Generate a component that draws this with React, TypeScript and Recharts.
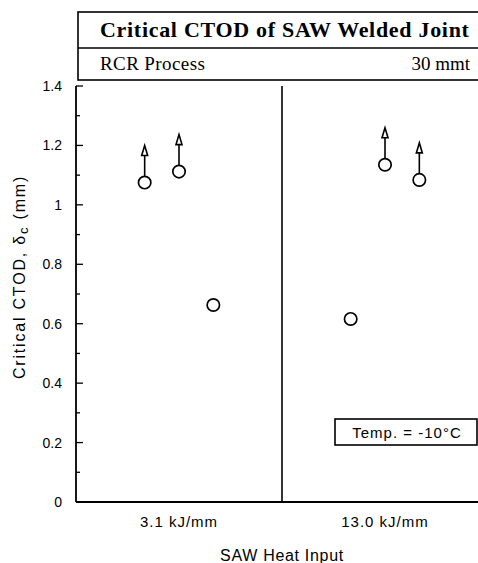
import { ScatterChart, Scatter, XAxis, YAxis, ReferenceLine, Label } from 'recharts';

const heatInputs = ['3.1 kJ/mm', '13.0 kJ/mm'];
// critical CTOD (mm) of the three specimens at each heat input
const ctod31 = [1.075, 1.112, 0.663];
const ctod130 = [0.616, 1.135, 1.084];
// true = no fracture, value is a lower bound (drawn with an up arrow)
const lowerBound31 = [true, true, false];
const lowerBound130 = [false, true, true];
const specimenSlots = [-0.5, 0, 0.5];
const yTicks = [0, 0.1, 0.2, 0.3, 0.4, 0.5, 0.6, 0.7, 0.8, 0.9, 1, 1.1, 1.2, 1.3, 1.4];

const groupWidth = 3;
const groupCenters = heatInputs.map((_, i) => i * groupWidth + groupWidth / 2);

const points = [ctod31, ctod130].flatMap((vals, g) =>
  vals.map((v, i) => ({
    x: groupCenters[g] + specimenSlots[i],
    y: v,
    lowerBound: [lowerBound31, lowerBound130][g][i],
  }))
);

const sans = '"Liberation Sans", Arial, sans-serif';
const serif = '"Liberation Serif", "Times New Roman", serif';

function CtodMark(props: any) {
  const { cx, cy, payload } = props;
  return (
    <g>
      {payload.lowerBound && (
        <>
          <line x1={cx} y1={cy - 6} x2={cx} y2={cy - 27} stroke="#000" strokeWidth={1.6} />
          <path
            d={`M${cx} ${cy - 37} L${cx - 3} ${cy - 27} L${cx + 3} ${cy - 27} Z`}
            fill="#fff"
            stroke="#000"
            strokeWidth={1.6}
          />
        </>
      )}
      <circle cx={cx} cy={cy} r={6.2} fill="#fff" stroke="#000" strokeWidth={1.7} />
    </g>
  );
}

function YTick(props: any) {
  const { x, y, payload } = props;
  const major = Math.round(payload.value * 10) % 2 === 0;
  const ax = x + 14;
  return (
    <g>
      <line x1={ax} x2={ax + (major ? 7 : 4)} y1={y} y2={y} stroke="#000" strokeWidth={1.3} />
      {major && (
        <text x={x} y={y} dy="0.355em" textAnchor="end" fill="#000" fontSize={14} fontFamily={sans}>
          {String(Number(payload.value.toFixed(1)))}
        </text>
      )}
    </g>
  );
}

function YTitle(props: any) {
  const { viewBox } = props;
  const x = viewBox.x + 19;
  const y = viewBox.y + viewBox.height / 2 - 17;
  return (
    <text
      x={x}
      y={y}
      transform={`rotate(-90 ${x} ${y})`}
      textAnchor="middle"
      dy="0.355em"
      fill="#000"
      fontSize={16}
      fontFamily={sans}
      letterSpacing={1.8}
    >
      Critical CTOD, δ
      <tspan fontSize={13} dy={3}>c</tspan>
      <tspan dy={-3}> (mm)</tspan>
    </text>
  );
}

export default function App() {
  return (
    <div style={{ position: 'relative', width: 478, height: 563, overflow: 'hidden', background: '#fff' }}>
      <style>{'body{margin:0}'}</style>
      <ScatterChart width={500} height={563} margin={{ top: 86, right: 12, bottom: 0, left: 0 }}>
        <XAxis
          type="number"
          dataKey="x"
          domain={[0, groupWidth * heatInputs.length]}
          ticks={groupCenters}
          tickFormatter={(v: number) => heatInputs[groupCenters.indexOf(v)]}
          tickLine={false}
          tickSize={0}
          tickMargin={14}
          height={61}
          axisLine={{ stroke: '#000', strokeWidth: 1.8 }}
          tick={{ fill: '#000', fontSize: 15, fontFamily: sans, letterSpacing: 1 }}
        >
          <Label
            value="SAW Heat Input"
            position="insideBottom"
            offset={2}
            style={{ fill: '#000', fontSize: 16, fontFamily: sans, letterSpacing: 0.7 }}
          />
        </XAxis>
        <XAxis
          xAxisId="top"
          orientation="top"
          type="number"
          dataKey="x"
          domain={[0, groupWidth * heatInputs.length]}
          height={0}
          tick={false}
          tickLine={false}
          axisLine={{ stroke: '#000', strokeWidth: 1.8 }}
        />
        <YAxis
          type="number"
          dataKey="y"
          domain={[0, 1.4]}
          ticks={yTicks}
          interval={0}
          width={76}
          tickSize={0}
          tickMargin={14}
          tickLine={false}
          axisLine={{ stroke: '#000', strokeWidth: 1.8 }}
          tick={<YTick />}
        >
          <Label content={<YTitle />} />
        </YAxis>
        <ReferenceLine x={groupWidth} stroke="#000" strokeWidth={1.6} />
        <Scatter data={points} shape={(p: any) => <CtodMark {...p} />} isAnimationActive={false} />
      </ScatterChart>
      <svg width={478} height={563} style={{ position: 'absolute', left: 0, top: 0, pointerEvents: 'none' }}>
        <rect x={78} y={12} width={420} height={68} fill="#fff" stroke="#000" strokeWidth={1.6} />
        <line x1={78} x2={498} y1={48} y2={48} stroke="#000" strokeWidth={1.6} />
        <text x={100} y={37} fontFamily={serif} fontWeight="bold" fontSize={22} letterSpacing={0.7} fill="#000">
          Critical CTOD of SAW Welded Joint
        </text>
        <text x={100} y={70} fontFamily={serif} fontSize={19} letterSpacing={0.4} fill="#000">
          RCR Process
        </text>
        <text x={470} y={70} textAnchor="end" fontFamily={serif} fontSize={19} fill="#000">
          30 mmt
        </text>
        <rect x={335} y={419} width={142} height={26} fill="#fff" stroke="#000" strokeWidth={1.6} />
        <text x={407} y={438} textAnchor="middle" fontFamily={sans} fontSize={15} letterSpacing={1} fill="#000">
          Temp. = -10°C
        </text>
      </svg>
    </div>
  );
}
